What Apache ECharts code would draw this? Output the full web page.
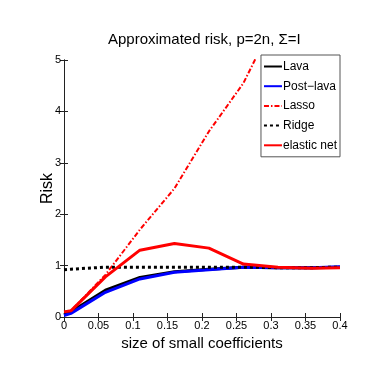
<!DOCTYPE html>
<html>
<head>
<meta charset="utf-8">
<script src="https://cdn.jsdelivr.net/npm/echarts@6/dist/echarts.min.js"></script>
<style>
html, body { margin: 0; padding: 0; background: #fff; }
#main { width: 392px; height: 382px; }
</style>
</head>
<body>
<div id="main"></div>
<script>
var xs = [0, 0.01, 0.06, 0.11, 0.16, 0.21, 0.26, 0.31, 0.36, 0.4];
var lava = [0.05, 0.10, 0.52, 0.77, 0.88, 0.93, 0.97, 0.96, 0.96, 0.97];
var postLava = [0.03, 0.07, 0.48, 0.74, 0.87, 0.92, 0.97, 0.96, 0.96, 0.98];
var lasso = [0.10, 0.12, 0.82, 1.70, 2.50, 3.61, 4.55, 5.9, 6.8, 7.5];
var ridge = [0.92, 0.93, 0.97, 0.97, 0.97, 0.97, 0.97, 0.96, 0.96, 0.97];
var elastic = [0.10, 0.12, 0.78, 1.30, 1.43, 1.34, 1.03, 0.97, 0.95, 0.96];

function pairs(ys) {
    var out = [];
    for (var i = 0; i < xs.length; i++) {
        out.push([xs[i], ys[i]]);
    }
    return out;
}

(function () {
    var myChart = echarts.init(document.getElementById('main'));
    var font = 'Liberation Sans';
    var axisColor = '#222';

    var option = {
        animation: false,
        backgroundColor: '#fff',
        title: {
            text: 'Approximated risk, p=2n, Σ=I',
            left: 103,
            top: 27,
            textStyle: { fontFamily: font, fontSize: 15, fontWeight: 'normal', color: '#000' }
        },
        legend: {
            orient: 'vertical',
            right: 52,
            top: 55,
            itemWidth: 18,
            itemHeight: 2,
            itemGap: 4.7,
            padding: [4, 3, 4, 2],
            borderColor: '#555',
            borderWidth: 1,
            backgroundColor: '#fff',
            itemStyle: { opacity: 0 },
            textStyle: { fontFamily: font, fontSize: 12, lineHeight: 15, color: '#000', padding: [0, 0, 0, -4] },
            data: ['Lava', 'Post\u2212lava', 'Lasso', 'Ridge', 'elastic net']
        },
        grid: { left: 64, right: 52, top: 60, bottom: 65 },
        xAxis: [{
            type: 'value',
            min: 0,
            max: 0.4,
            interval: 0.05,
            name: 'size of small coefficients',
            nameLocation: 'middle',
            nameGap: 16,
            nameTextStyle: { fontFamily: font, fontSize: 15, color: '#000' },
            axisLine: { lineStyle: { color: axisColor } },
            axisTick: { inside: true, length: 4, lineStyle: { color: axisColor } },
            axisLabel: { fontFamily: font, fontSize: 11, color: '#000', margin: 3 },
            splitLine: { show: false }
        }, {
            type: 'value',
            position: 'top',
            min: 0,
            max: 0.4,
            interval: 0.05,
            axisLine: { lineStyle: { color: axisColor } },
            axisTick: { inside: true, length: 4, lineStyle: { color: axisColor } },
            axisLabel: { show: false },
            splitLine: { show: false }
        }],
        yAxis: [{
            type: 'value',
            min: 0,
            max: 5,
            interval: 1,
            name: 'Risk',
            nameLocation: 'middle',
            nameMoveOverlap: false,
            nameGap: 8,
            nameTextStyle: { fontFamily: font, fontSize: 16, color: '#000' },
            axisLine: { show: true, lineStyle: { color: axisColor } },
            axisTick: { show: true, inside: true, length: 4, lineStyle: { color: axisColor } },
            axisLabel: { fontFamily: font, fontSize: 11, color: '#000', margin: 3 },
            splitLine: { show: false }
        }, {
            type: 'value',
            position: 'right',
            min: 0,
            max: 5,
            interval: 1,
            axisLine: { show: true, lineStyle: { color: axisColor } },
            axisTick: { show: true, inside: true, length: 4, lineStyle: { color: axisColor } },
            axisLabel: { show: false },
            splitLine: { show: false }
        }],
        series: [
            {
                name: 'Lava', type: 'line', symbol: 'none', clip: true,
                color: '#000',
                lineStyle: { color: '#000', width: 3 },
                data: pairs(lava)
            },
            {
                name: 'Post\u2212lava', type: 'line', symbol: 'none', clip: true,
                color: '#0000ff',
                lineStyle: { color: '#0000ff', width: 3 },
                data: pairs(postLava)
            },
            {
                name: 'Lasso', type: 'line', symbol: 'none', clip: true,
                color: '#ff0000',
                lineStyle: { color: '#ff0000', width: 2, type: [5, 2, 1.5, 2] },
                data: pairs(lasso)
            },
            {
                name: 'Ridge', type: 'line', symbol: 'none', clip: true,
                color: '#000',
                lineStyle: { color: '#000', width: 3, type: [3, 3] },
                data: pairs(ridge)
            },
            {
                name: 'elastic net', type: 'line', symbol: 'none', clip: true,
                color: '#ff0000',
                lineStyle: { color: '#ff0000', width: 3 },
                data: pairs(elastic)
            }
        ]
    };

    myChart.setOption(option);
})();
</script>
</body>
</html>
